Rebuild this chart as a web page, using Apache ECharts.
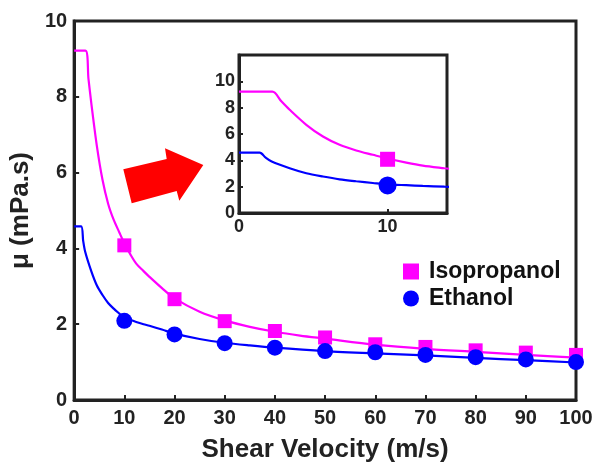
<!DOCTYPE html>
<html>
<head>
<meta charset="utf-8">
<script src="https://cdn.jsdelivr.net/npm/echarts@6/dist/echarts.min.js"></script>
<style>
  html, body { margin: 0; padding: 0; background: #fff; }
  #chart { width: 596px; height: 468px; }
</style>
</head>
<body>
<div id="chart"></div>
<script>
// measured points (shear velocity, m/s)
const speed = [10, 20, 30, 40, 50, 60, 70, 80, 90, 100];
const isoPoints = [4.08, 2.66, 2.08, 1.82, 1.65, 1.47, 1.40, 1.31, 1.25, 1.19];
const ethPoints = [2.09, 1.73, 1.50, 1.38, 1.29, 1.26, 1.19, 1.13, 1.07, 1.00];

// fitted curves
const isoCurveX = [0, 2.25, 2.85, 3.41, 4.53, 5.65, 6.77, 7.89, 9.01, 9.91, 11.26, 12.37, 13.83, 15, 17.5, 20, 25, 30, 35, 40, 45, 50, 60, 70, 80, 90, 100];
const isoCurveY = [9.22, 9.22, 8.48, 7.84, 6.70, 5.81, 5.18, 4.75, 4.42, 4.16, 3.83, 3.60, 3.40, 3.25, 2.95, 2.68, 2.33, 2.10, 1.93, 1.80, 1.70, 1.62, 1.46, 1.35, 1.27, 1.19, 1.12];
const ethCurveX = [0, 1.39, 1.8, 2.2, 3.41, 4.53, 5.65, 6.77, 7.89, 9.01, 9.91, 11.26, 12.37, 13.83, 15, 17.5, 20, 25, 30, 35, 40, 50, 60, 70, 80, 90, 100];
const ethCurveY = [4.58, 4.58, 4.2, 3.91, 3.40, 3.02, 2.77, 2.56, 2.41, 2.28, 2.18, 2.11, 2.06, 2.00, 1.96, 1.86, 1.75, 1.61, 1.51, 1.44, 1.38, 1.29, 1.23, 1.18, 1.11, 1.05, 0.99];

// axis ticks
const insetXTicks = [0, 10];
const insetYTicks = [0, 2, 4, 6, 8, 10];

const pairs = (xs, ys) => xs.map((x, i) => [x, ys[i]]);

const ISO = '#FF00FF';
const ETH = '#0000FF';
const INK = '#222222';
const FONT = 'Liberation Sans';

let chart = echarts.init(document.getElementById('chart'));

function axisBase(extra) {
  return Object.assign({
    type: 'value',
    splitLine: { show: false },
    axisLine: { show: true, onZero: false, lineStyle: { color: INK, width: 3 } },
    axisTick: { show: true, inside: true, length: 5, lineStyle: { color: INK, width: 2 } },
    axisLabel: { color: INK, fontFamily: FONT, fontWeight: 'bold', fontSize: 20 }
  }, extra);
}

function fit(name, xi, xs, ys, color) {
  return {
    name: name, type: 'line', xAxisIndex: xi, yAxisIndex: xi, data: pairs(xs, ys),
    showSymbol: false, clip: true, smooth: 0.3,
    lineStyle: { color: color, width: 2.2 }
  };
}

let option = {
  animation: false,
  backgroundColor: '#fff',
  grid: [
    { left: 74, top: 21, right: 20, bottom: 66, show: true, borderColor: INK, borderWidth: 3, backgroundColor: '#fff' },
    { left: 239, top: 55, right: 149, bottom: 255, show: true, borderColor: INK, borderWidth: 3, backgroundColor: '#fff' }
  ],
  xAxis: [
    axisBase({
      gridIndex: 0, min: 0, max: 100, interval: 10,
      name: 'Shear Velocity (m/s)', nameLocation: 'middle', nameGap: 37,
      nameTextStyle: { color: INK, fontFamily: FONT, fontWeight: 'bold', fontSize: 26 },
      axisLabel: { color: INK, fontFamily: FONT, fontWeight: 'bold', fontSize: 20, margin: 8 }
    }),
    axisBase({
      gridIndex: 1, min: 0, max: 14,
      axisTick: { show: true, inside: true, length: 4, customValues: insetXTicks, lineStyle: { color: INK, width: 2 } },
      axisLabel: { color: INK, fontFamily: FONT, fontWeight: 'bold', fontSize: 18, margin: 5, customValues: insetXTicks }
    })
  ],
  yAxis: [
    axisBase({
      gridIndex: 0, min: 0, max: 10, interval: 2,
      name: 'μ (mPa.s)', nameLocation: 'middle', nameGap: 34,
      nameTextStyle: { color: INK, fontFamily: FONT, fontWeight: 'bold', fontSize: 26 },
      axisLabel: { color: INK, fontFamily: FONT, fontWeight: 'bold', fontSize: 20, margin: 7 }
    }),
    axisBase({
      gridIndex: 1, min: 0, max: 12,
      axisTick: { show: true, inside: true, length: 4, customValues: insetYTicks, lineStyle: { color: INK, width: 2 } },
      axisLabel: { color: INK, fontFamily: FONT, fontWeight: 'bold', fontSize: 18, margin: 4, customValues: insetYTicks }
    })
  ],
  legend: {
    orient: 'vertical',
    left: 403, top: 260, padding: 0,
    itemWidth: 16, itemHeight: 16, itemGap: 4,
    textStyle: { color: '#111', fontFamily: FONT, fontWeight: 'bold', fontSize: 23, padding: [0, 0, 0, 5] },
    data: [
      { name: 'Isopropanol', icon: 'rect' },
      { name: 'Ethanol', icon: 'circle' }
    ]
  },
  graphic: [{
    type: 'polygon',
    z: 100,
    shape: {
      points: [[123.3, 169.3], [166.7, 159], [165, 148.3], [203.3, 165], [179.3, 200.7], [176.7, 191], [131.7, 203.3]]
    },
    style: { fill: '#FF0000' }
  }],
  series: [
    fit('isoFit', 0, isoCurveX, isoCurveY, ISO),
    fit('ethFit', 0, ethCurveX, ethCurveY, ETH),
    { name: 'Isopropanol', type: 'scatter', xAxisIndex: 0, yAxisIndex: 0, data: pairs(speed, isoPoints),
      symbol: 'rect', symbolSize: 14, itemStyle: { color: ISO, opacity: 1 }, z: 3 },
    { name: 'Ethanol', type: 'scatter', xAxisIndex: 0, yAxisIndex: 0, data: pairs(speed, ethPoints),
      symbol: 'circle', symbolSize: 16, itemStyle: { color: ETH, opacity: 1 }, z: 3 },
    fit('isoFitInset', 1, isoCurveX, isoCurveY, ISO),
    fit('ethFitInset', 1, ethCurveX, ethCurveY, ETH),
    { name: 'Isopropanol', type: 'scatter', xAxisIndex: 1, yAxisIndex: 1, data: pairs(speed, isoPoints),
      clip: true, symbol: 'rect', symbolSize: 15, itemStyle: { color: ISO, opacity: 1 }, z: 3 },
    { name: 'Ethanol', type: 'scatter', xAxisIndex: 1, yAxisIndex: 1, data: pairs(speed, ethPoints),
      clip: true, symbol: 'circle', symbolSize: 18, itemStyle: { color: ETH, opacity: 1 }, z: 3 }
  ]
};

chart.setOption(option);
</script>
</body>
</html>
